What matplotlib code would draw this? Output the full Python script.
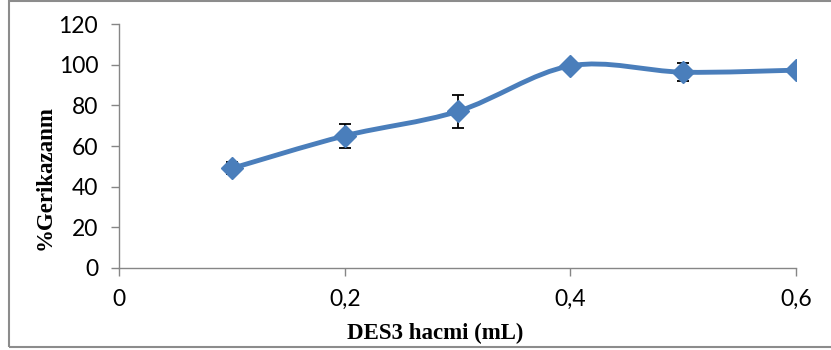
import numpy as np
import matplotlib
matplotlib.use("Agg")
import matplotlib.pyplot as plt
from matplotlib.path import Path
from matplotlib.patches import PathPatch, Rectangle
from matplotlib.ticker import FuncFormatter

# data
volumes = [0.1, 0.2, 0.3, 0.4, 0.5, 0.6]
recovery = [49, 65, 77, 99.4, 96.3, 97.3]
recovery_err = [3, 6, 8.3, 1, 4.3, 1]

x_ticks = [0, 0.2, 0.4, 0.6]
y_ticks = [0, 20, 40, 60, 80, 100, 120]

LINE_COLOR = "#4A7EBB"
AXIS_COLOR = "#868686"


def smooth_path(xs, ys):
    """Excel-style smoothed line: cubic Bezier segments through every point."""
    pts = np.column_stack([xs, ys]).astype(float)
    padded = np.vstack([pts[0], pts, pts[-1]])
    verts = [pts[0]]
    codes = [Path.MOVETO]
    for i in range(1, len(padded) - 2):
        p0, p1, p2, p3 = padded[i - 1], padded[i], padded[i + 1], padded[i + 2]
        verts += [p1 + (p2 - p0) / 6.0, p2 - (p3 - p1) / 6.0, p2]
        codes += [Path.CURVE4] * 3
    return Path(verts, codes)


fig = plt.figure(figsize=(8.31, 3.5), dpi=100)
ax = fig.add_axes([0.1432, 0.2343, 0.8148, 0.6971])

ax.add_patch(PathPatch(smooth_path(volumes, recovery), facecolor="none",
                       edgecolor=LINE_COLOR, lw=3.5, zorder=2, capstyle="round"))
ax.errorbar(volumes, recovery, yerr=recovery_err, fmt="none", ecolor="black",
            elinewidth=1.3, capsize=4.5, capthick=1.3, zorder=3)
ax.plot(volumes, recovery, linestyle="none", marker="D", markersize=11,
        color=LINE_COLOR, zorder=4)

ax.set_xlim(0, 0.6)
ax.set_ylim(0, 120)
ax.set_xticks(x_ticks)
ax.set_yticks(y_ticks)
ax.xaxis.set_major_formatter(FuncFormatter(lambda v, p: f"{v:g}".replace(".", ",")))

for side in ["top", "right"]:
    ax.spines[side].set_visible(False)
for side in ["left", "bottom"]:
    ax.spines[side].set_color(AXIS_COLOR)
    ax.spines[side].set_linewidth(1.0)
ax.tick_params(direction="out", length=6, width=1.0, color=AXIS_COLOR,
               labelsize=16.5, pad=9)
for lbl in ax.get_xticklabels() + ax.get_yticklabels():
    lbl.set_family("Lato")

# axis titles placed where the reference has them (slightly off-centre)
fig.text(435 / 831, 1 - 333 / 350, "DES3 hacmi (mL)", family="Liberation Serif",
         fontweight="bold", fontsize=16.5, ha="center", va="center")
fig.text(45 / 831, 1 - 178 / 350, "%Gerikazanm", family="Liberation Serif",
         fontweight="bold", fontsize=16.5, ha="center", va="center", rotation=90)

# grey frame round the whole chart area
fig.patches.append(Rectangle((9 / 831, 3 / 350), 1.0, 346 / 350,
                             transform=fig.transFigure, fill=False,
                             edgecolor="#8c8c8c", lw=1.5))

fig.savefig("out.png", dpi=100)
